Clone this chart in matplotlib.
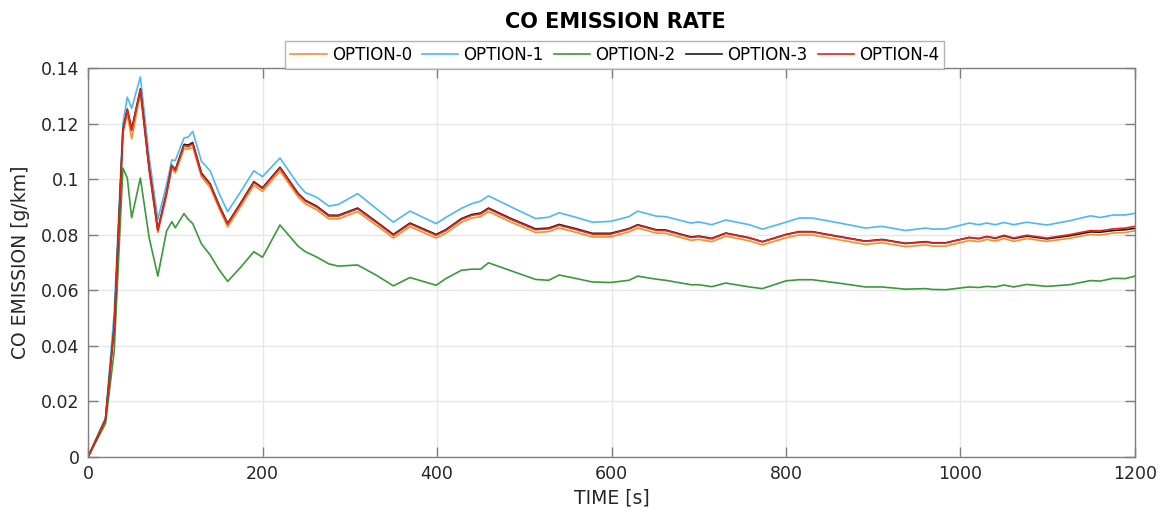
import matplotlib
matplotlib.use("Agg")
import matplotlib.pyplot as plt
from matplotlib.ticker import FuncFormatter

time_s = [0, 20, 30, 40, 45, 50, 60, 70, 80, 90, 96, 100, 110, 115, 120, 130, 140, 150, 160, 175,
          190, 200, 220, 241, 249, 262, 276, 287, 309, 330, 350, 369, 399, 410, 428, 440, 450, 459,
          485, 513, 528, 540, 560, 578, 599, 620, 630, 651, 662, 691, 700, 715, 731, 758, 773, 800,
          815, 830, 860, 891, 910, 937, 960, 968, 983, 1010, 1021, 1030, 1040, 1050, 1061, 1076,
          1099, 1125, 1149, 1160, 1175, 1189, 1200]

option_1 = [0, 0.0140, 0.052, 0.120, 0.1295, 0.1255, 0.1368, 0.108, 0.0855, 0.098, 0.1069, 0.1067,
            0.1148, 0.1152, 0.1172, 0.1064, 0.1030, 0.0950, 0.0883, 0.0955, 0.1030, 0.1009, 0.1076,
            0.0980, 0.0952, 0.0935, 0.0903, 0.0909, 0.0948, 0.0895, 0.0845, 0.0885, 0.0840, 0.0862,
            0.0895, 0.0912, 0.0921, 0.0940, 0.0900, 0.0858, 0.0863, 0.0879, 0.0862, 0.0845, 0.0848,
            0.0865, 0.0885, 0.0867, 0.0865, 0.0842, 0.0846, 0.0836, 0.0853, 0.0836, 0.0820, 0.0845,
            0.0860, 0.0860, 0.0843, 0.0824, 0.0830, 0.0815, 0.0824, 0.0820, 0.0821, 0.0842, 0.0836,
            0.0842, 0.0836, 0.0844, 0.0836, 0.0845, 0.0835, 0.0850, 0.0868, 0.0862, 0.0871, 0.0871,
            0.0877]

option_4 = [0, 0.0135, 0.047, 0.1175, 0.1250, 0.1175, 0.1322, 0.104, 0.0815, 0.095, 0.1048, 0.1031,
            0.1121, 0.1117, 0.1127, 0.1018, 0.0980, 0.0905, 0.0838, 0.0912, 0.0988, 0.0966, 0.1040,
            0.0945, 0.0921, 0.0900, 0.0867, 0.0867, 0.0893, 0.0845, 0.0798, 0.0839, 0.0798, 0.0815,
            0.0855, 0.0870, 0.0875, 0.0893, 0.0855, 0.0818, 0.0821, 0.0834, 0.0818, 0.0802, 0.0802,
            0.0820, 0.0834, 0.0816, 0.0815, 0.0790, 0.0793, 0.0785, 0.0805, 0.0788, 0.0774, 0.0800,
            0.0810, 0.0810, 0.0793, 0.0776, 0.0782, 0.0768, 0.0774, 0.0770, 0.0770, 0.0790, 0.0786,
            0.0794, 0.0788, 0.0798, 0.0788, 0.0798, 0.0788, 0.0800, 0.0815, 0.0814, 0.0821, 0.0824,
            0.0830]

option_3 = [0, 0.0136, 0.047, 0.1177, 0.1252, 0.1180, 0.1325, 0.1043, 0.0818, 0.0953, 0.1050, 0.1034,
            0.1125, 0.1123, 0.1132, 0.1022, 0.0983, 0.0908, 0.0841, 0.0915, 0.0991, 0.0969, 0.1043,
            0.0948, 0.0924, 0.0903, 0.0870, 0.0870, 0.0896, 0.0848, 0.0801, 0.0842, 0.0801, 0.0818,
            0.0858, 0.0873, 0.0878, 0.0896, 0.0858, 0.0821, 0.0824, 0.0837, 0.0821, 0.0805, 0.0805,
            0.0822, 0.0836, 0.0818, 0.0817, 0.0792, 0.0795, 0.0787, 0.0806, 0.0789, 0.0775, 0.0801,
            0.0811, 0.0811, 0.0794, 0.0777, 0.0783, 0.0769, 0.0775, 0.0771, 0.0771, 0.0790, 0.0786,
            0.0793, 0.0787, 0.0796, 0.0786, 0.0795, 0.0785, 0.0796, 0.0810, 0.0809, 0.0815, 0.0818,
            0.0823]

option_0 = [0, 0.0134, 0.046, 0.1165, 0.1235, 0.1145, 0.1310, 0.1030, 0.0808, 0.0940, 0.1040, 0.1022,
            0.1110, 0.1108, 0.1115, 0.1008, 0.0970, 0.0896, 0.0828, 0.0902, 0.0978, 0.0956, 0.1030,
            0.0935, 0.0911, 0.0890, 0.0857, 0.0857, 0.0883, 0.0835, 0.0788, 0.0829, 0.0788, 0.0805,
            0.0845, 0.0860, 0.0865, 0.0883, 0.0845, 0.0808, 0.0811, 0.0824, 0.0808, 0.0792, 0.0792,
            0.0810, 0.0824, 0.0806, 0.0805, 0.0780, 0.0783, 0.0775, 0.0795, 0.0778, 0.0763, 0.0789,
            0.0799, 0.0799, 0.0782, 0.0765, 0.0771, 0.0757, 0.0763, 0.0759, 0.0759, 0.0779, 0.0775,
            0.0783, 0.0777, 0.0786, 0.0776, 0.0786, 0.0776, 0.0787, 0.0801, 0.0799, 0.0806, 0.0808,
            0.0814]

option_2 = [0, 0.0120, 0.038, 0.104, 0.1004, 0.0861, 0.1004, 0.079, 0.0651, 0.0813, 0.0847, 0.0825,
            0.0876, 0.0855, 0.0840, 0.0767, 0.0727, 0.0675, 0.0632, 0.0683, 0.0739, 0.0719, 0.0835,
            0.0758, 0.0739, 0.0720, 0.0695, 0.0687, 0.0691, 0.0655, 0.0616, 0.0646, 0.0618, 0.0642,
            0.0672, 0.0676, 0.0676, 0.0699, 0.0670, 0.0639, 0.0636, 0.0655, 0.0642, 0.0630, 0.0628,
            0.0636, 0.0651, 0.0640, 0.0636, 0.0620, 0.0620, 0.0613, 0.0626, 0.0612, 0.0606, 0.0634,
            0.0638, 0.0638, 0.0626, 0.0612, 0.0612, 0.0604, 0.0606, 0.0603, 0.0602, 0.0612, 0.0610,
            0.0614, 0.0612, 0.0619, 0.0612, 0.0621, 0.0614, 0.0620, 0.0635, 0.0633, 0.0643, 0.0642,
            0.0651]

series_names = ["OPTION-0", "OPTION-1", "OPTION-2", "OPTION-3", "OPTION-4"]
series_colors = ["#F0922E", "#4DB8F5", "#3A9A3A", "#1A1A1A", "#E8231A"]
x_ticks = [0, 200, 400, 600, 800, 1000, 1200]
y_ticks = [0, 0.02, 0.04, 0.06, 0.08, 0.10, 0.12, 0.14]

fig = plt.figure(figsize=(11.66, 5.14), dpi=100)
ax = fig.add_axes([0.0755, 0.1109, 0.8979, 0.7568])

for vals, name, col in zip([option_0, option_1, option_2, option_3, option_4], series_names, series_colors):
    ax.plot(time_s, vals, color=col, lw=1.2, label=name)

ax.set_xlim(0, 1200)
ax.set_ylim(0, 0.14)
ax.set_xticks(x_ticks)
ax.set_yticks(y_ticks)
ax.yaxis.set_major_formatter(FuncFormatter(lambda v, p: "%g" % round(v, 4)))
ax.grid(True, color="#e6e6e6", lw=1.0)
ax.set_axisbelow(True)
for s in ax.spines.values():
    s.set_color("#7f7f7f")
    s.set_linewidth(1.0)
ax.tick_params(direction="in", length=7, width=1, colors="#7f7f7f", labelcolor="#262626",
               labelsize=12.5, top=True, right=True, pad=6)

ax.set_xlabel("TIME [s]", fontsize=13.5, color="#262626", labelpad=4)
ax.set_ylabel("CO EMISSION [g/km]", fontsize=13.5, color="#262626", labelpad=8)
fig.text(0.528, 0.957, "CO EMISSION RATE", fontsize=15, fontweight="bold", ha="center", va="center",
         color="#000000")

leg = ax.legend(loc="lower center", bbox_to_anchor=(0.503, 0.998), ncol=5, fontsize=12,
                frameon=True, fancybox=False, edgecolor="#a0a0a0", borderpad=0.3,
                handlelength=2.2, handletextpad=0.3, columnspacing=0.6, borderaxespad=0)
leg.get_frame().set_linewidth(1.0)

fig.savefig("out.png", dpi=100)
